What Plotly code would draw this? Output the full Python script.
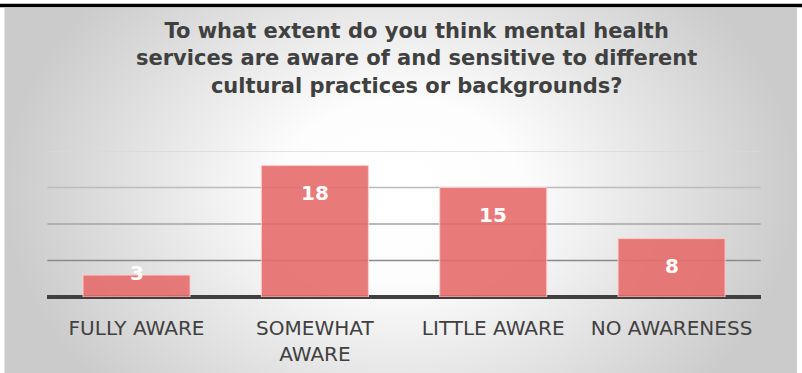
import plotly.graph_objects as go

# Survey responses
categories = ["FULLY AWARE", "SOMEWHAT<br>AWARE", "LITTLE AWARE", "NO AWARENESS"]
counts = [3, 18, 15, 8]
grid_values = [5, 10, 15, 20]

title_text = ("To what extent do you think mental health<br>"
              "services are aware of and sensitive to different<br>"
              "cultural practices or backgrounds?")

W, H = 802, 373
PLOT_TOP, PLOT_BOTTOM = 151, 297  # pixel rows of the value axis (20 and 0)

fig = go.Figure()

# Background panel with a radial grey-to-white gradient (full-paper subplot);
# the shape reaches past the top/bottom so the vertical fade is softer
fig.add_trace(go.Scatter(
    x=[5, 797, 797, 5, 5], y=[-110, -110, 490, 490, -110],
    mode="lines", line=dict(width=0), fill="toself",
    fillgradient=dict(type="radial",
                      colorscale=[[0, "#ffffff"], [0.3, "#fdfdfd"], [1, "#cbcbcb"]]),
    hoverinfo="skip", showlegend=False, xaxis="x", yaxis="y",
))

# Bars on their own axes inside the panel
fig.add_trace(go.Bar(
    x=categories, y=counts,
    marker=dict(color="rgba(231,107,107,0.9)",
                line=dict(color="rgba(255,205,205,0.9)", width=1)),
    width=0.6, showlegend=False, hoverinfo="skip",
    xaxis="x2", yaxis="y2",
))

# Horizontal gridlines, fading towards the top, drawn beneath the bars
grid_colors = ["#8a8a8a", "#a4a4a4", "#bcbcbc", "#d8d8d8"]
n_cat = len(categories)
for gv, gc in zip(grid_values, grid_colors):
    fig.add_shape(type="line", xref="x2", yref="y2",
                  x0=-0.5, x1=n_cat - 0.5, y0=gv, y1=gv,
                  line=dict(color=gc, width=1.3), layer="between")

# Value labels near the inside end of each bar
px_per_unit = (PLOT_BOTTOM - PLOT_TOP) / 20.0
for cat, v in zip(categories, counts):
    yc = max(v - 27 / px_per_unit, 24 / px_per_unit)
    fig.add_annotation(
        x=cat, y=yc, xref="x2", yref="y2", text=str(v), showarrow=False,
        yanchor="middle",
        font=dict(family="DejaVu Sans", size=20, color="white", weight="bold"),
    )

# Chart title
fig.add_annotation(
    x=416.5 / W, y=1 - 17 / H, xref="paper", yref="paper",
    xanchor="center", yanchor="top", showarrow=False, align="center",
    text=title_text,
    font=dict(family="DejaVu Sans", size=21, color="#404040", weight="bold"),
)

# Frame: white strip and dark rule across the top, light rule on the left
fig.add_shape(type="rect", xref="x", yref="y", x0=0, x1=802, y0=0, y1=8,
              line=dict(width=0), fillcolor="white")
fig.add_shape(type="line", xref="x", yref="y", x0=0, x1=802, y0=5.5, y1=5.5,
              line=dict(color="black", width=3.5))
fig.add_shape(type="line", xref="x", yref="y", x0=4.5, x1=4.5, y0=8, y1=373,
              line=dict(color="#e6e6e6", width=1))

fig.update_layout(
    width=W, height=H,
    margin=dict(l=0, r=0, t=0, b=0),
    paper_bgcolor="white", plot_bgcolor="rgba(0,0,0,0)",
    xaxis=dict(domain=[0, 1], range=[0, W], visible=False, fixedrange=True),
    yaxis=dict(domain=[0, 1], range=[H, 0], visible=False, fixedrange=True),
    xaxis2=dict(domain=[46.7 / W, 761.4 / W], anchor="y2",
                showgrid=False, zeroline=False, showline=False, ticks="",
                ticklabelstandoff=17,
                tickfont=dict(family="DejaVu Sans", size=20, color="#404040")),
    yaxis2=dict(domain=[(H - PLOT_BOTTOM) / H, (H - PLOT_TOP) / H], anchor="x2",
                range=[0, 20], showticklabels=False, ticks="", showgrid=False,
                zeroline=True, zerolinecolor="#404040", zerolinewidth=3.5,
                showline=False),
    bargap=0.4,
)

fig.write_html("out.html")
